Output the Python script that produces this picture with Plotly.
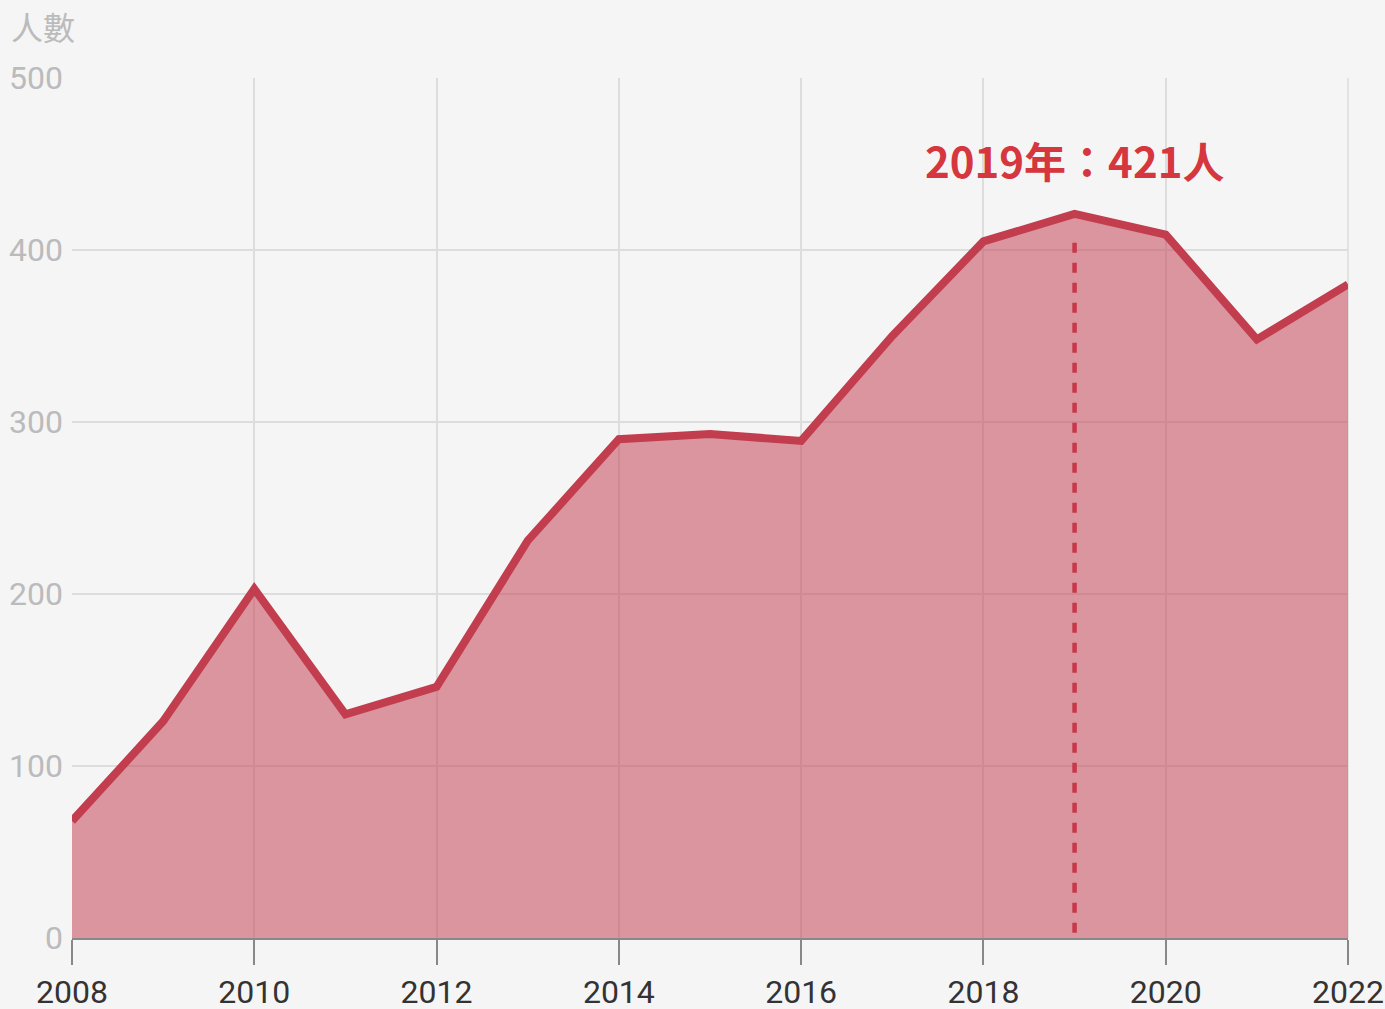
import plotly.graph_objects as go

years = [2008, 2009, 2010, 2011, 2012, 2013, 2014, 2015, 2016, 2017, 2018, 2019, 2020, 2021, 2022]
counts = [68, 126, 203, 130, 146, 231, 290, 293, 289, 350, 405, 421, 409, 348, 380]
x_ticks = [2008, 2010, 2012, 2014, 2016, 2018, 2020, 2022]
y_ticks = [0, 100, 200, 300, 400, 500]
highlight_year = 2019
highlight_value = 421
highlight_text = "2019年：421人"
y_title = "人數"

line_color = "#C23D4E"
fig = go.Figure()
fig.add_trace(go.Scatter(
    x=years, y=counts, mode="lines",
    line=dict(color=line_color, width=8),
    fill="tozeroy", fillcolor="rgba(194,61,78,0.52)",
    hoverinfo="x+y", showlegend=False,
))
fig.add_trace(go.Scatter(
    x=[highlight_year, highlight_year], y=[3, highlight_value - 12], mode="lines",
    line=dict(color="#C8374A", width=4.5, dash="10px,10px"),
    hoverinfo="skip", showlegend=False,
))

fig.add_annotation(
    x=highlight_year, y=highlight_value, xref="x", yref="y",
    text=highlight_text, showarrow=False, yshift=54,
    font=dict(family="Noto Sans CJK TC, Roboto", size=42, color="#D6363D", weight="bold"),
)
fig.add_annotation(
    x=0, y=1, xref="paper", yref="paper", xanchor="left", yanchor="bottom",
    text=y_title, showarrow=False, xshift=-63, yshift=27,
    font=dict(family="Noto Sans CJK TC", size=32, color="#BBBBBB"),
)

fig.update_layout(
    width=1385, height=1009, autosize=False,
    margin=dict(l=72, r=37, t=78, b=71, autoexpand=False),
    paper_bgcolor="#F5F5F5", plot_bgcolor="#F5F5F5",
    font=dict(family="Roboto, Noto Sans CJK TC"),
    xaxis=dict(
        range=[2008, 2022], tickvals=x_ticks, ticktext=[str(t) for t in x_ticks],
        showgrid=True, gridcolor="#DDDDDD", gridwidth=1.5,
        showline=True, linecolor="#888888", linewidth=2,
        ticks="outside", ticklen=25, tickwidth=2, tickcolor="#888888",
        ticklabelstandoff=0, automargin=False,
        tickfont=dict(size=32, color="#333333", family="Roboto"),
        zeroline=False, fixedrange=True,
    ),
    yaxis=dict(
        range=[0, 500], tickvals=y_ticks,
        showgrid=True, gridcolor="#DDDDDD", gridwidth=1.5,
        showline=False, zeroline=False, automargin=False,
        ticks="", ticklabelstandoff=8,
        tickfont=dict(size=32, color="#BBBBBB", family="Roboto"),
        fixedrange=True,
    ),
)
fig.add_shape(type="line", xref="paper", yref="paper", x0=1, x1=1, y0=0, y1=1,
              line=dict(color="#DDDDDD", width=1.5), layer="below")

fig.write_html("out.html", config={"displayModeBar": False},
               post_script="document.body.style.margin='0';document.body.style.overflow='hidden';")
